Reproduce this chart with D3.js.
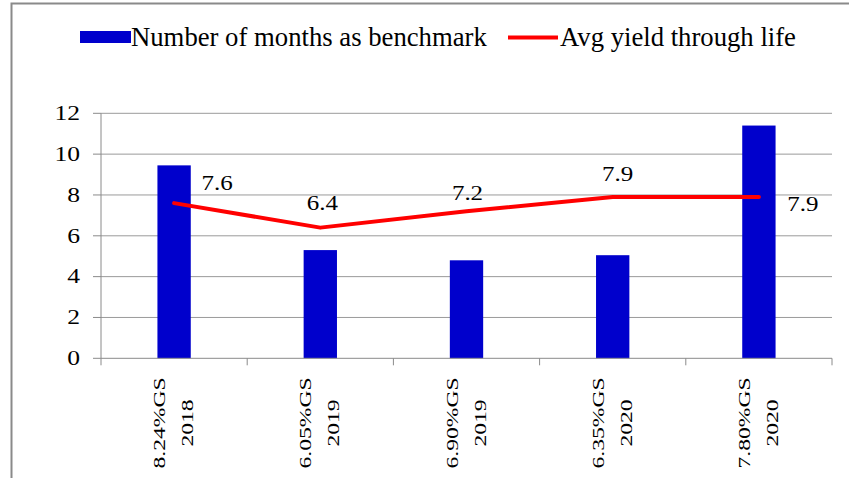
<!DOCTYPE html>
<html>
<head>
<meta charset="utf-8">
<script src="https://cdn.jsdelivr.net/npm/d3@7"></script>
<style>
  html, body { margin: 0; padding: 0; background: #fff; }
  svg { display: block; }
  text { font-family: "Liberation Serif", "Times New Roman", serif; fill: #000; }
</style>
</head>
<body>
<svg id="chart" width="849" height="478"></svg>
<script>
const categories = [['8.24%GS', '2018'], ['6.05%GS', '2019'], ['6.90%GS', '2019'], ['6.35%GS', '2020'], ['7.80%GS', '2020']];
const monthsBenchmark = [9.45, 5.3, 4.8, 5.05, 11.4];
const avgYield = [7.6, 6.4, 7.2, 7.9, 7.9];
const yieldLabels = ['7.6', '6.4', '7.2', '7.9', '7.9'];
const yTicks = [0, 2, 4, 6, 8, 10, 12];
const seriesNames = ['Number of months as benchmark', 'Avg yield through life'];

// label nudges relative to each line point (hand placed in the original)
const labelNudge = [[43, -13], [2, -18], [1, -11], [5, -16], [44, 14]];

const svg = d3.select('#chart');
const plot = { left: 101, right: 832, top: 113.3, bottom: 358.3 };

const x = d3.scaleBand().domain(d3.range(categories.length)).range([plot.left, plot.right]).padding(0);
const y = d3.scaleLinear().domain([0, 12]).range([plot.bottom, plot.top]);
const barW = x.bandwidth() * 0.228;
const cx = i => x(i) + x.bandwidth() / 2;

// outer frame
svg.append('rect')
  .attr('x', 11.5).attr('y', 3.5).attr('width', 900).attr('height', 600)
  .attr('fill', 'none').attr('stroke', '#8a8a8a').attr('stroke-width', 2);

// gridlines
svg.append('g').selectAll('line')
  .data(yTicks.filter(d => d > 0))
  .enter().append('line')
  .attr('x1', plot.left).attr('x2', plot.right)
  .attr('y1', d => y(d)).attr('y2', d => y(d))
  .attr('stroke', '#9a9a9a').attr('stroke-width', 1);

// y axis
const yAxis = svg.append('g');
yAxis.append('line')
  .attr('x1', plot.left).attr('x2', plot.left).attr('y1', plot.top).attr('y2', plot.bottom)
  .attr('stroke', '#8a8a8a');
yAxis.selectAll('.tick')
  .data(yTicks)
  .enter().append('line')
  .attr('x1', plot.left - 8).attr('x2', plot.left)
  .attr('y1', d => y(d)).attr('y2', d => y(d))
  .attr('stroke', '#8a8a8a');
yAxis.selectAll('text')
  .data(yTicks)
  .enter().append('text')
  .attr('transform', d => `translate(80,${y(d) + 6.7}) scale(1.28,1)`)
  .attr('text-anchor', 'end')
  .attr('font-size', 20)
  .text(d => d);

// bars
svg.append('g').selectAll('rect')
  .data(monthsBenchmark)
  .enter().append('rect')
  .attr('x', (d, i) => cx(i) - barW / 2)
  .attr('y', d => y(d))
  .attr('width', barW)
  .attr('height', d => y(0) - y(d))
  .attr('fill', '#0000cc');

// x axis
const xAxis = svg.append('g');
xAxis.append('line')
  .attr('x1', plot.left).attr('x2', plot.right).attr('y1', plot.bottom).attr('y2', plot.bottom)
  .attr('stroke', '#8a8a8a');
xAxis.selectAll('.tick')
  .data(d3.range(categories.length + 1))
  .enter().append('line')
  .attr('x1', i => plot.left + i * x.bandwidth())
  .attr('x2', i => plot.left + i * x.bandwidth())
  .attr('y1', plot.bottom).attr('y2', plot.bottom + 7)
  .attr('stroke', '#8a8a8a');

categories.forEach((lines, i) => {
  lines.forEach((t, j) => {
    xAxis.append('text')
      .attr('transform', `translate(${cx(i) - 9 + j * 28},423) rotate(-90) scale(1.35,1)`)
      .attr('text-anchor', 'middle')
      .attr('font-size', 17.5)
      .text(t);
  });
});

// yield line
const line = d3.line().x((d, i) => cx(i)).y(d => y(d));
svg.append('path')
  .datum(avgYield)
  .attr('d', line)
  .attr('fill', 'none')
  .attr('stroke', '#ff0000')
  .attr('stroke-width', 4)
  .attr('stroke-linejoin', 'round')
  .attr('stroke-linecap', 'round');

svg.append('g').selectAll('text')
  .data(avgYield)
  .enter().append('text')
  .attr('transform', (d, i) => `translate(${cx(i) + labelNudge[i][0]},${y(d) + labelNudge[i][1]}) scale(1.25,1)`)
  .attr('text-anchor', 'middle')
  .attr('font-size', 20)
  .text((d, i) => yieldLabels[i]);

// legend
const legend = svg.append('g');
legend.append('rect')
  .attr('x', 80).attr('y', 31).attr('width', 51).attr('height', 12)
  .attr('fill', '#0000cc');
legend.append('text')
  .attr('x', 131).attr('y', 46)
  .attr('font-size', 26.7)
  .text(seriesNames[0]);
legend.append('line')
  .attr('x1', 508).attr('x2', 558).attr('y1', 37.5).attr('y2', 37.5)
  .attr('stroke', '#ff0000').attr('stroke-width', 4);
legend.append('text')
  .attr('x', 560).attr('y', 46)
  .attr('font-size', 26.7)
  .text(seriesNames[1]);
</script>
</body>
</html>
